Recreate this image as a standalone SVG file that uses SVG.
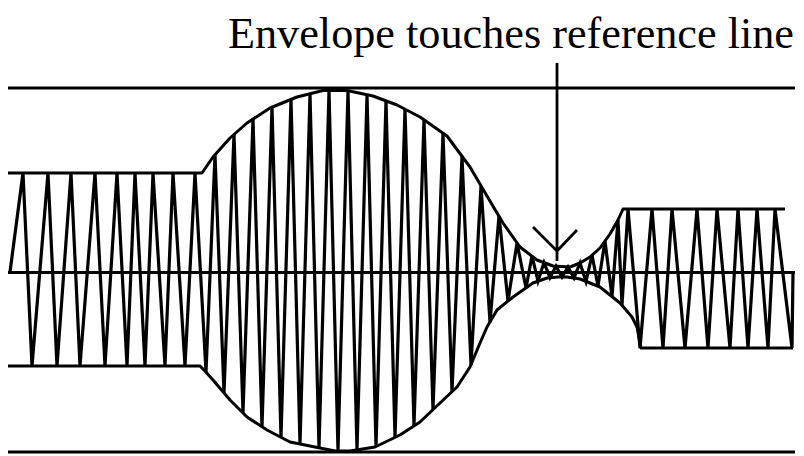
<svg xmlns="http://www.w3.org/2000/svg" width="804" height="456" viewBox="0 0 804 456">
<style>
.ref{stroke:#000;stroke-width:2.8;fill:none}
.env{stroke:#000;stroke-width:3;fill:none;stroke-linejoin:round}
.car{stroke:#000;stroke-width:3.2;fill:none;stroke-linejoin:miter}
.lbl{font-family:"Liberation Serif","Times New Roman",serif;font-size:44px;fill:#000}
</style>
<rect width="804" height="456" fill="#fff"/>
<g id="reference-lines">
<line class="ref" x1="8" y1="88" x2="795" y2="88"/>
<line class="ref" x1="8" y1="452" x2="795" y2="452"/>
<line class="ref" x1="8" y1="272.5" x2="795" y2="272.5"/>
</g>
<g id="carrier">
<polyline class="car" points="10,272 23,173 32,366 48,173 57,366 71,173 80,366 95,173 105,366 117,173 127,366 135,173 145,366 153,173 165,366 173,173 185,366 195,173 206,372 215,155 224,393 234,134.5 243,413 253,119 262,427 272,107 281,437 291,99.4 300,444 310,94 319,448 329,91 338,451 348,91 357,450 367,95 376,446.5 386,101 395,437.4 405,109 414,426 424,120 433,410 443,133 452,392 462,156 471,365 481,186 490,322 499,216 508,301 517,243 526,288 532,256 538,281 544,262.6 550,277.7 556,266.2 562,277 568,267 574,278 580,263 586,281.4 592,255 598,286 605,241 612,296.6 618,220 622,305 628,209 640,348 652,209 663,348 672,209 685,348 697,209 708,348 717,209 730,348 738,209 748,348 757,209 768,348 775,209 792,348 793,272"/>
</g>
<g id="envelope">
<polyline class="env" points="8,173 202,173 213,157 230,138 247,123 270,108 297,97 323,90.5 347,90.5 373,96 397,105 420,117 447,136 470,167 487,196 503,223 520,247 537,260 553,266 570,267 580,263 590,257 600,248 610,234 618,220 623,209 785,209"/>
<polyline class="env" points="8,366 200,366 205,371 213,380 230,400 247,417 267,430 290,442 320,448 335,451 350,451 375,447 400,435 420,422 440,403 457,387 470,367 480,343 487,327 497,310 513,297 533,283 547,278 558,277 567,277 580,279 600,287 620,303 632,317 637,327 640,343 641,348 793,348"/>
</g>
<g id="annotation">
<text class="lbl" x="228" y="48" textLength="566" lengthAdjust="spacingAndGlyphs">Envelope touches reference line</text>
<line class="ref" x1="557" y1="63" x2="557" y2="261"/>
<polyline class="ref" points="533,227 557,251 577,230"/>
</g>
</svg>
